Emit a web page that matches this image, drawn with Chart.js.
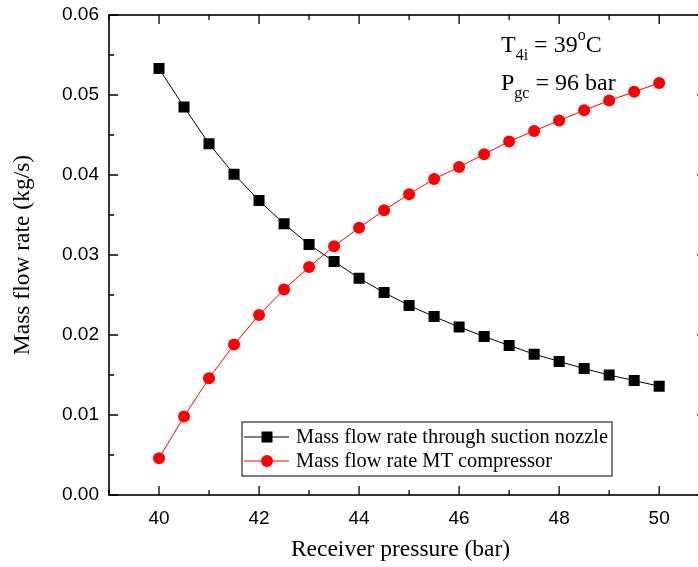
<!DOCTYPE html>
<html lang="en">
<head>
  <meta charset="UTF-8">
  <title>Mass flow rate vs receiver pressure</title>
  <script src="https://cdn.jsdelivr.net/npm/chart.js"></script>
  <style>
    html, body { margin: 0; padding: 0; background: #fff; overflow: hidden; }
    #wrap { width: 698px; height: 567px; overflow: hidden; }
  </style>
</head>
<body>
  <div id="wrap"><canvas id="myChart" width="714" height="567"></canvas></div>

<script>
  // data
  var pressao = [40, 40.5, 41, 41.5, 42, 42.5, 43, 43.5, 44, 44.5, 45, 45.5, 46, 46.5, 47, 47.5, 48, 48.5, 49, 49.5, 50]
  var vazaoBocal = [0.0533, 0.0485, 0.0439, 0.0401, 0.0368, 0.0339, 0.0313, 0.0292, 0.0271, 0.0253, 0.0237, 0.0223, 0.0210, 0.0198, 0.0187, 0.0176, 0.0167, 0.0158, 0.0150, 0.0143, 0.0136]
  var vazaoCompressor = [0.0046, 0.0098, 0.0146, 0.0188, 0.0225, 0.0257, 0.0285, 0.0311, 0.0334, 0.0356, 0.0376, 0.0395, 0.0410, 0.0426, 0.0442, 0.0455, 0.0468, 0.0481, 0.0493, 0.0504, 0.0515]

  var xTicksMaiores = [40, 42, 44, 46, 48, 50]
  var xTicksMenores = [39, 41, 43, 45, 47, 49]
  var yTicksMaiores = [0, 0.01, 0.02, 0.03, 0.04, 0.05, 0.06]
  var yTicksMenores = [0.005, 0.015, 0.025, 0.035, 0.045, 0.055]

  var nomes = ['Mass flow rate through suction nozzle', 'Mass flow rate MT compressor']
  var tituloX = 'Receiver pressure (bar)'

  function pontos(xs, ys) {
    var out = []
    for (var i = 0; i < xs.length; i++) out.push({ x: xs[i], y: ys[i] })
    return out
  }

  const serif = '"Liberation Serif", "Times New Roman", serif'

  // frame, inward ticks, legend box, x title and the T/P note
  const moldura = {
    id: 'moldura',
    afterDraw(chart) {
      const ctx = chart.ctx
      const a = chart.chartArea
      const x = chart.scales.x
      const y = chart.scales.y
      ctx.save()
      ctx.strokeStyle = '#000'
      ctx.lineWidth = 1.6
      ctx.strokeRect(a.left, a.top, a.right - a.left, a.bottom - a.top)

      ctx.lineWidth = 1.3
      ctx.beginPath()
      function tx(v, len) {
        const px = x.getPixelForValue(v)
        ctx.moveTo(px, a.bottom); ctx.lineTo(px, a.bottom - len)
        ctx.moveTo(px, a.top); ctx.lineTo(px, a.top + len)
      }
      function ty(v, len) {
        const py = y.getPixelForValue(v)
        ctx.moveTo(a.left, py); ctx.lineTo(a.left + len, py)
        ctx.moveTo(a.right, py); ctx.lineTo(a.right - len, py)
      }
      xTicksMaiores.forEach(v => tx(v, 9))
      xTicksMenores.forEach(v => tx(v, 5))
      yTicksMaiores.forEach(v => ty(v, 9))
      yTicksMenores.forEach(v => ty(v, 5))
      ctx.stroke()

      // legend
      const lx = 242, lt = 422
      const lw = 370, lh = 54
      ctx.lineWidth = 1
      ctx.strokeStyle = '#000'
      ctx.fillStyle = '#fff'
      ctx.fillRect(lx, lt, lw, lh)
      ctx.strokeRect(lx, lt, lw, lh)
      ctx.font = '20.4px ' + serif
      ctx.textBaseline = 'middle'
      chart.data.datasets.forEach((ds, i) => {
        const cy = lt + 15 + i * 24
        ctx.strokeStyle = ds.borderColor
        ctx.lineWidth = 1
        ctx.beginPath()
        ctx.moveTo(lx + 2, cy); ctx.lineTo(lx + 47, cy)
        ctx.stroke()
        ctx.fillStyle = ds.backgroundColor
        if (ds.pointStyle === 'rect') {
          ctx.fillRect(lx + 25 - 5.5, cy - 5.5, 11, 11)
        } else {
          ctx.beginPath()
          ctx.arc(lx + 25, cy, 6, 0, Math.PI * 2)
          ctx.fill()
        }
        ctx.fillStyle = '#000'
        ctx.textAlign = 'left'
        ctx.fillText(ds.label, lx + 54, cy + 1)
      })

      // x title (the visible part of the figure is cropped on the right)
      ctx.font = '23.5px ' + serif
      ctx.textAlign = 'center'
      ctx.textBaseline = 'middle'
      ctx.fillText(tituloX, 400.5, 550)

      // note
      ctx.textAlign = 'left'
      ctx.textBaseline = 'alphabetic'
      const nx = 501
      const grande = '24px ' + serif, pequeno = '16px ' + serif
      ctx.font = grande
      ctx.fillText('T', nx, 52)
      let w = ctx.measureText('T').width
      ctx.font = pequeno
      ctx.fillText('4i', nx + w, 60)
      w += ctx.measureText('4i').width
      ctx.font = grande
      ctx.fillText(' = 39', nx + w, 52)
      w += ctx.measureText(' = 39').width
      ctx.font = pequeno
      ctx.fillText('o', nx + w, 40)
      w += ctx.measureText('o').width
      ctx.font = grande
      ctx.fillText('C', nx + w, 52)

      ctx.fillText('P', nx, 90)
      w = ctx.measureText('P').width
      ctx.font = pequeno
      ctx.fillText('gc', nx + w, 98)
      w += ctx.measureText('gc').width
      ctx.font = grande
      ctx.fillText(' = 96 bar', nx + w, 90)
      ctx.restore()
    }
  }

  const config = {
    type: 'line',
    data: {
      datasets: [{
        label: nomes[0],
        data: pontos(pressao, vazaoBocal),
        borderColor: '#000',
        backgroundColor: '#000',
        borderWidth: 1,
        pointStyle: 'rect',
        pointRadius: 7.8,
        pointBorderWidth: 0,
        tension: 0
      }, {
        label: nomes[1],
        data: pontos(pressao, vazaoCompressor),
        borderColor: '#ff0000',
        backgroundColor: '#ff0000',
        borderWidth: 1,
        pointStyle: 'circle',
        pointRadius: 6,
        pointBorderWidth: 0,
        tension: 0
      }]
    },
    options: {
      responsive: false,
      animation: false,
      layout: { padding: { top: 15, right: 0, left: 0, bottom: 0 } },
      plugins: { legend: { display: false }, tooltip: { enabled: false } },
      scales: {
        x: {
          type: 'linear',
          min: 39,
          max: 50.94,
          afterBuildTicks: s => { s.ticks = xTicksMaiores.map(v => ({ value: v })) },
          afterFit: s => { s.height = 72; s.paddingLeft = 0; s.paddingRight = 0 },
          grid: { display: false, drawTicks: false },
          border: { display: false },
          ticks: {
            padding: 12,
            color: '#000',
            font: { family: '"Liberation Sans", Arial, sans-serif', size: 19 },
            callback: v => String(v)
          }
        },
        y: {
          min: 0,
          max: 0.06,
          afterBuildTicks: s => { s.ticks = yTicksMaiores.map(v => ({ value: v })) },
          afterFit: s => { s.width = 109; s.paddingTop = 0; s.paddingBottom = 0 },
          grid: { display: false, drawTicks: false },
          border: { display: false },
          ticks: {
            padding: 10,
            color: '#000',
            font: { family: '"Liberation Sans", Arial, sans-serif', size: 19 },
            callback: v => v.toFixed(2)
          },
          title: {
            display: true,
            text: 'Mass flow rate (kg/s)',
            color: '#000',
            font: { family: serif, size: 23.5 },
            padding: { top: 9, bottom: 0 }
          }
        }
      }
    },
    plugins: [moldura]
  }

  let myChart = new Chart(document.getElementById('myChart'), config)
</script>
</body>
</html>
